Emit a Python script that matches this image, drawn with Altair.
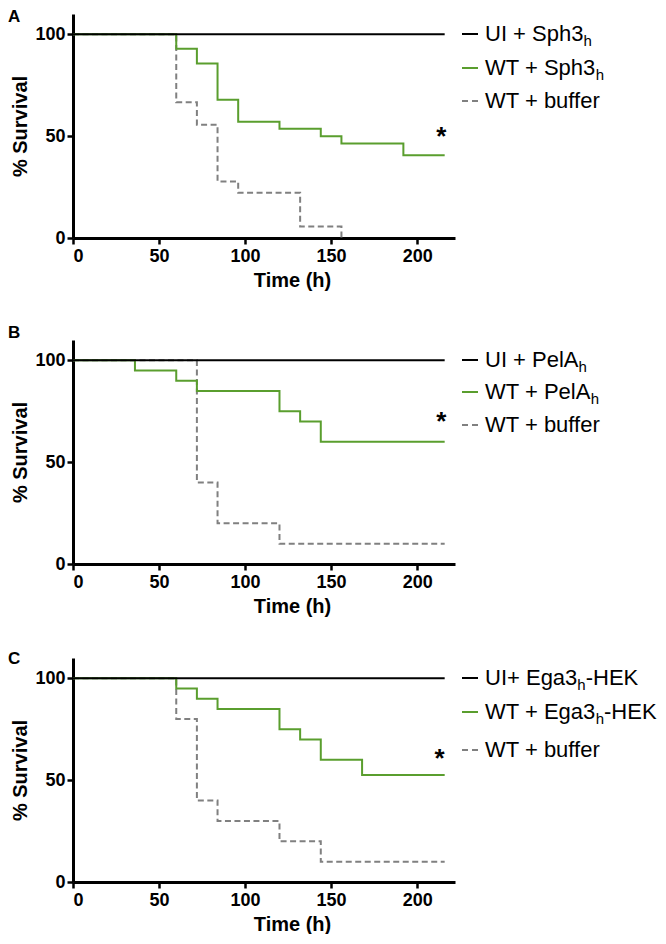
import altair as alt
import pandas as pd

FONT = "Liberation Sans, Arial, Helvetica, sans-serif"

# ---------------- data ----------------
panel_labels = ["A", "B", "C"]

# Panel A
A_ui_t = [0, 216]
A_ui_s = [100, 100]
A_wt_t = [0, 60, 72, 84, 96, 120, 144, 156, 192, 216]
A_wt_s = [100, 92.9, 85.7, 67.9, 57.1, 53.6, 50.0, 46.4, 40.6, 40.6]
A_buf_t = [0, 60, 72, 84, 96, 132, 156]
A_buf_s = [100, 66.7, 55.6, 27.8, 22.2, 5.6, 0]

# Panel B
B_ui_t = [0, 216]
B_ui_s = [100, 100]
B_wt_t = [0, 36, 60, 72, 120, 132, 144, 216]
B_wt_s = [100, 95, 90, 85, 75, 70, 60, 60]
B_buf_t = [0, 72, 84, 120, 216]
B_buf_s = [100, 40, 20, 10, 10]

# Panel C
C_ui_t = [0, 216]
C_ui_s = [100, 100]
C_wt_t = [0, 60, 72, 84, 120, 132, 144, 168, 216]
C_wt_s = [100, 95, 90, 85, 75, 70, 60, 52.5, 52.5]
C_buf_t = [0, 60, 72, 84, 120, 144, 216]
C_buf_s = [100, 80, 40, 30, 20, 10, 10]

# significance stars (x, y in data units)
star_t = [214, 214, 213]
star_s = [51.0, 71.2, 62.0]

# legend labels: (main text, subscript, tail)
A_legend = [("UI + Sph3", "h", ""), ("WT + Sph3", "h", ""), ("WT + buffer", "", "")]
B_legend = [("UI + PelA", "h", ""), ("WT + PelA", "h", ""), ("WT + buffer", "", "")]
C_legend = [("UI+ Ega3", "h", "-HEK"), ("WT + Ega3", "h", "-HEK"), ("WT + buffer", "", "")]

x_ticks = [0, 50, 100, 150, 200]
y_ticks = [0, 50, 100]

# ---------------- styling / layout ----------------
W, H = 382, 224
GREEN = "#5a9e2e"
GREY = "#808080"
LEG_FS = 22
SUB_FS = 15

# Arial / Liberation Sans advance widths (per 1000 em)
ARIAL = {" ": 278, "+": 584, "-": 333, "3": 556, "A": 667, "E": 667, "H": 722,
         "I": 278, "K": 667, "P": 667, "S": 667, "T": 611, "U": 722, "W": 944,
         "a": 556, "b": 556, "e": 556, "f": 278, "g": 556, "h": 556, "l": 222,
         "p": 556, "r": 333, "u": 556}


def text_w(s, size):
    return sum(ARIAL.get(c, 556) for c in s) * size / 1000.0


ONE = alt.Data(values=[{}])

x_enc = alt.X("t:Q", scale=alt.Scale(domain=[0, 222], nice=False, zero=False),
              axis=alt.Axis(values=x_ticks, title="Time (h)", titleX=219))
y_enc = alt.Y("s:Q", scale=alt.Scale(domain=[0, 110], nice=False),
              axis=alt.Axis(values=y_ticks, title="% Survival"))


def panel(label, ui, wt, buf, star, legend, label_y, rows):
    d_ui = pd.DataFrame({"t": ui[0], "s": ui[1]})
    d_wt = pd.DataFrame({"t": wt[0], "s": wt[1]})
    d_buf = pd.DataFrame({"t": buf[0], "s": buf[1]})
    d_star = pd.DataFrame({"t": [star[0]], "s": [star[1]]})

    layers = [
        alt.Chart(d_buf).mark_line(interpolate="step-after", color=GREY,
                                   strokeWidth=2, strokeDash=[6, 3.5])
        .encode(x=x_enc, y=y_enc),
        alt.Chart(d_wt).mark_line(interpolate="step-after", color=GREEN,
                                  strokeWidth=2).encode(x=x_enc, y=y_enc),
        alt.Chart(d_ui).mark_line(interpolate="step-after", color="black",
                                  strokeWidth=2).encode(x=x_enc, y=y_enc),
        alt.Chart(d_star).mark_text(text="*", font=FONT, fontWeight="bold",
                                    fontSize=26, baseline="alphabetic",
                                    dy=11, color="black")
        .encode(x=x_enc, y=y_enc),
        alt.Chart(ONE).mark_text(font=FONT, fontWeight="bold", fontSize=17,
                                 align="left", baseline="middle", color="black")
        .encode(x=alt.value(-65), y=alt.value(label_y), text=alt.value(label)),
    ]

    sym_styles = [dict(color="black"), dict(color=GREEN),
                  dict(color=GREY, strokeDash=[6, 4])]
    for (main, sub, tail), ry, st in zip(legend, rows, sym_styles):
        layers.append(
            alt.Chart(ONE).mark_rule(strokeWidth=2, **st)
            .encode(x=alt.value(389), x2=alt.value(405), y=alt.value(ry)))
        x0 = 412
        layers.append(
            alt.Chart(ONE).mark_text(font=FONT, fontSize=LEG_FS, align="left",
                                     baseline="middle", color="black")
            .encode(x=alt.value(x0), y=alt.value(ry), text=alt.value(main)))
        x1 = x0 + text_w(main, LEG_FS)
        if sub:
            layers.append(
                alt.Chart(ONE).mark_text(font=FONT, fontSize=SUB_FS, align="left",
                                         baseline="middle", color="black")
                .encode(x=alt.value(x1), y=alt.value(ry + 7), text=alt.value(sub)))
            x2 = x1 + text_w(sub, SUB_FS)
            if tail:
                layers.append(
                    alt.Chart(ONE).mark_text(font=FONT, fontSize=LEG_FS, align="left",
                                             baseline="middle", color="black")
                    .encode(x=alt.value(x2), y=alt.value(ry), text=alt.value(tail)))
    return alt.layer(*layers).properties(width=W, height=H)


pA = panel(panel_labels[0], (A_ui_t, A_ui_s), (A_wt_t, A_wt_s), (A_buf_t, A_buf_s),
           (star_t[0], star_s[0]), A_legend, 3, [20, 54, 87])
pB = panel(panel_labels[1], (B_ui_t, B_ui_s), (B_wt_t, B_wt_s), (B_buf_t, B_buf_s),
           (star_t[1], star_s[1]), B_legend, -7, [20, 52, 85])
pC = panel(panel_labels[2], (C_ui_t, C_ui_s), (C_wt_t, C_wt_s), (C_buf_t, C_buf_s),
           (star_t[2], star_s[2]), C_legend, 1, [20, 54, 92])

chart = (
    alt.vconcat(pA, pB, pC, spacing=34)
    .properties(padding={"left": 0, "top": 0, "right": 0, "bottom": 0})
    .configure_view(stroke=None)
    .configure_axis(
        domainColor="black", domainWidth=3, tickColor="black", tickWidth=2.5,
        tickSize=6, labelFont=FONT, labelFontWeight="bold", labelFontSize=18,
        labelColor="black", titleFont=FONT, titleFontWeight="bold",
        titleFontSize=20, titleColor="black", grid=False, labelPadding=2,
    )
    .configure_axisY(titlePadding=4)
    .configure_axisX(titlePadding=5, labelPadding=3)
)

chart.save("out.html", embed_options={"renderer": "svg", "actions": False})
